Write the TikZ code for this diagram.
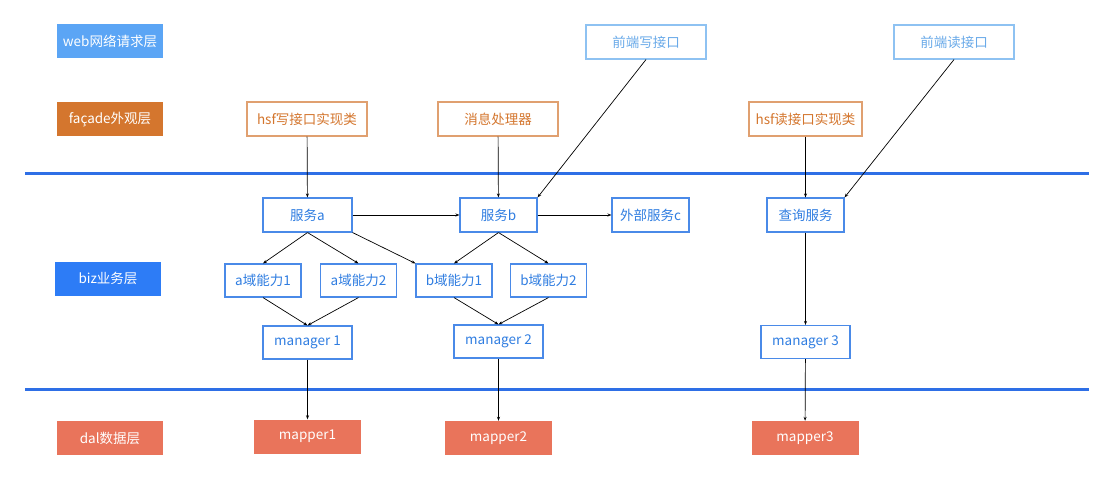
\documentclass[tikz,border=0pt]{standalone}
\usepackage{fontspec}
\setmainfont{Noto Sans CJK SC}
\usepackage{tikz}
\usetikzlibrary{arrows.meta,positioning}
\definecolor{webfill}{HTML}{5BA5F5}
\definecolor{facfill}{HTML}{D4762E}
\definecolor{bizfill}{HTML}{2D7CF6}
\definecolor{dalfill}{HTML}{E9745B}
\definecolor{sepblue}{HTML}{2E6FE6}
\definecolor{bizbd}{HTML}{4A8AE8}
\definecolor{biztext}{HTML}{2F7DE1}
\definecolor{webbd}{HTML}{8EC2F2}
\definecolor{webtext}{HTML}{6AAAE9}
\definecolor{facbd}{HTML}{E0A070}
\tikzset{
  layerbox/.style={rectangle,fill=#1,text=white,align=center,
    font=\fontsize{13.5}{15}\selectfont,
    minimum width=106pt,minimum height=34pt,inner sep=2pt},
  webbox/.style={rectangle,draw=webbd,line width=1.1pt,fill=white,
    text=webtext,align=center,font=\fontsize{13.5}{15}\selectfont,
    minimum width=120pt,minimum height=34pt,inner sep=2pt},
  facbox/.style={rectangle,draw=facbd,line width=1.1pt,fill=white,
    text=facfill,align=center,font=\fontsize{13.5}{15}\selectfont,
    minimum width=120pt,minimum height=34pt,inner sep=2pt},
  bizbox/.style={rectangle,draw=bizbd,line width=1.1pt,fill=white,
    text=biztext,align=center,font=\fontsize{13.5}{15}\selectfont,
    minimum width=77pt,minimum height=34pt,inner sep=2pt},
  mapbox/.style={rectangle,fill=dalfill,text=white,align=center,
    font=\fontsize{13.5}{15}\selectfont,
    minimum width=107pt,minimum height=34pt,inner sep=2pt},
  sepline/.style={line width=3pt,color=sepblue},
  archarr/.style={-{Stealth[length=4pt,width=3pt]},line width=0.7pt,color=black},
}

\begin{document}
\begin{tikzpicture}[x=1pt,y=-1pt]
  \useasboundingbox (0,0) rectangle (1109,484);

  % layer labels
  \node[layerbox=webfill] (lweb) at (110,41.5) {web网络请求层};
  \node[layerbox=facfill] (lfac) at (110,119.5) {façade外观层};
  \node[layerbox=bizfill] (lbiz) at (108,278.5) {biz业务层};
  \node[layerbox=dalfill] (ldal) at (110,438) {dal数据层};

  % layer separators
  \draw[sepline] (25,174) -- (1089,174);
  \draw[sepline] (25,389.5) -- (1089,389.5);

  % web
  \node[webbox] (fw) at (646,42) {前端写接口};
  \node[webbox] (fr) at (954,42) {前端读接口};

  % facade
  \node[facbox] (hsfw) at (307,119) {hsf写接口实现类};
  \node[facbox] (msgh) at (498,119) {消息处理器};
  \node[facbox,minimum width=113pt] (hsfr) at (805.5,119) {hsf读接口实现类};

  % biz
  \node[bizbox,minimum width=89pt] (srva) at (307.5,215) {服务a};
  \node[bizbox] (srvb) at (498.5,215) {服务b};
  \node[bizbox] (srvc) at (650.5,215) {外部服务c};
  \node[bizbox] (qry) at (805.5,215) {查询服务};

  \node[bizbox,minimum width=76pt,minimum height=33pt] (a1) at (263,280.5) {a域能力1};
  \node[bizbox,minimum width=76pt,minimum height=33pt] (a2) at (358.5,280.5) {a域能力2};
  \node[bizbox,minimum width=76pt,minimum height=33pt] (b1) at (454,280.5) {b域能力1};
  \node[bizbox,minimum width=76pt,minimum height=33pt] (b2) at (548.5,280.5) {b域能力2};

  \node[bizbox,minimum width=89pt,minimum height=33pt] (m1) at (307.5,342.5) {manager 1};
  \node[bizbox,minimum width=89pt,minimum height=33pt] (m2) at (498.5,341.5) {manager 2};
  \node[bizbox,minimum width=89pt,minimum height=33pt] (m3) at (805.5,342) {manager 3};

  % dal
  \node[mapbox] (map1) at (307.5,436.5) {mapper1};
  \node[mapbox] (map2) at (498.5,438) {mapper2};
  \node[mapbox] (map3) at (805,438) {mapper3};

  \draw[archarr] (hsfw) -- (srva);
  \draw[archarr] (msgh) -- (srvb);
  \draw[archarr] (hsfr) -- (qry);
  \draw[archarr] (fw.south) -- (srvb.north east);
  \draw[archarr] (fr.south) -- (qry.north east);
  \draw[archarr] (srva) -- (srvb);
  \draw[archarr] (srvb) -- (srvc);
  \draw[archarr] (srva.south) -- (a1.north);
  \draw[archarr] (srva.south) -- (a2.north);
  \draw[archarr] (srva.south east) -- (b1.north west);
  \draw[archarr] (srvb.south) -- (b1.north);
  \draw[archarr] (srvb.south) -- (b2.north);
  \draw[archarr] (a1.south) -- (m1.north);
  \draw[archarr] (a2.south) -- (m1.north);
  \draw[archarr] (b1.south) -- (m2.north);
  \draw[archarr] (b2.south) -- (m2.north);
  \draw[archarr] (qry) -- (m3);
  \draw[archarr] (m1) -- (map1);
  \draw[archarr] (m2) -- (map2);
  \draw[archarr] (m3) -- (map3);
\end{tikzpicture}
\end{document}
